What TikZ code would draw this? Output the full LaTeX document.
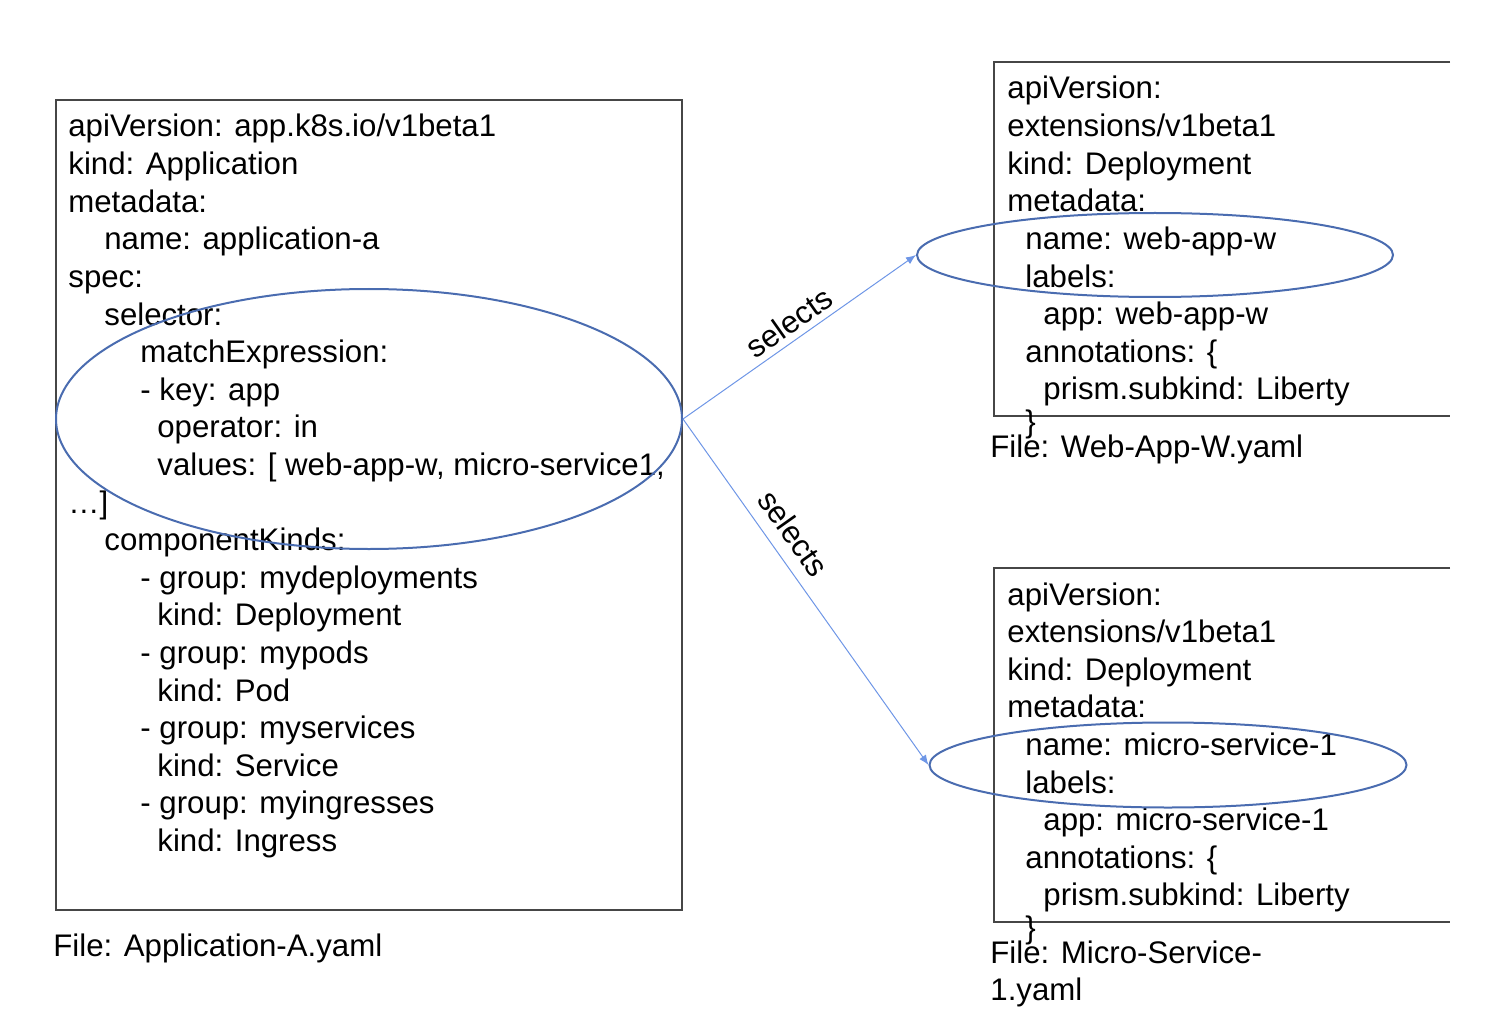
\documentclass[tikz,border=0pt]{standalone}
\usepackage{fontspec}
\setmainfont{Liberation Sans}
\usetikzlibrary{shapes.geometric,arrows.meta}
\definecolor{selblue}{RGB}{74,108,176}
\definecolor{arrowblue}{RGB}{110,150,230}
\definecolor{boxgray}{RGB}{70,70,70}
\tikzset{
  yamltext/.style={anchor=base west,inner sep=0pt,font=\fontsize{15.6}{18.8}\selectfont},
  selring/.style={ellipse,draw=selblue,line width=1pt,inner sep=0pt},
  selarrow/.style={draw=arrowblue,line width=0.5pt,-{Latex[length=5pt,width=4pt]}},
  sellabel/.style={sloped,above,inner sep=3pt,font=\fontsize{15.6}{18.8}\selectfont},
  filebox/.style={draw=boxgray,line width=1.2pt},
}

\begin{document}
\begin{tikzpicture}[x=0.5pt,y=-0.5pt]
\useasboundingbox (0,0) rectangle (1488,1032);

% Application-A.yaml
\draw[filebox] (56,100) rectangle (682,910);
\foreach \x/\t [count=\i from 0] in {
  68/{apiVersion: app.k8s.io/v1beta1},
  68/{kind: Application},
  68/{metadata:},
  104/{name: application-a},
  68/{spec:},
  104/{selector:},
  140/{matchExpression:},
  140/{- key: app},
  157/{operator: in},
  157/{values: [ web-app-w, micro-service1,},
  68/{…]},
  104/{componentKinds:},
  140/{- group: mydeployments},
  157/{kind: Deployment},
  140/{- group: mypods},
  157/{kind: Pod},
  140/{- group: myservices},
  157/{kind: Service},
  140/{- group: myingresses},
  157/{kind: Ingress}}
  \node[yamltext] (app\i) at (\x,137+37.6*\i) {\t};
\node[yamltext] (appFile) at (53,956) {File: Application-A.yaml};

% Web-App-W.yaml
\draw[filebox] (1450,62) -- (994,62) -- (994,416) -- (1450,416);
\foreach \x/\t [count=\i from 0] in {
  1007/{apiVersion:},
  1007/{extensions/v1beta1},
  1007/{kind: Deployment},
  1007/{metadata:},
  1025/{name: web-app-w},
  1025/{labels:},
  1043/{app: web-app-w},
  1025/{annotations: \{},
  1043/{prism.subkind: Liberty}}
  \node[yamltext] (web\i) at (\x,99+37.6*\i) {\t};
\node[yamltext] (webBrace) at (1025,432) {\}};
\node[yamltext] (webFile) at (990,457) {File: Web-App-W.yaml};

% Micro-Service-1.yaml
\draw[filebox] (1450,568) -- (994,568) -- (994,922) -- (1450,922);
\foreach \x/\t [count=\i from 0] in {
  1007/{apiVersion:},
  1007/{extensions/v1beta1},
  1007/{kind: Deployment},
  1007/{metadata:},
  1025/{name: micro-service-1},
  1025/{labels:},
  1043/{app: micro-service-1},
  1025/{annotations: \{},
  1043/{prism.subkind: Liberty}}
  \node[yamltext] (ms\i) at (\x,605+37.6*\i) {\t};
\node[yamltext] (msBrace) at (1025,938) {\}};
\node[yamltext] (msFile) at (990,963) {File: Micro-Service-};
\node[yamltext] (msFile2) at (990,1000) {1.yaml};

% selections
\node[selring,minimum width=313pt,minimum height=130pt] (appSel) at (369,419) {};
\node[selring,minimum width=238pt,minimum height=42pt] (webSel) at (1155,255) {};
\node[selring,minimum width=238.5pt,minimum height=42.5pt] (msSel) at (1168,765) {};

\draw[selarrow] (appSel.east) -- node[sellabel] (selWeb) {selects} (webSel.west);
\draw[selarrow] (appSel.east) -- node[sellabel,pos=0.37,inner sep=6pt] (selMs) {selects} (msSel.west);
\end{tikzpicture}
\end{document}
